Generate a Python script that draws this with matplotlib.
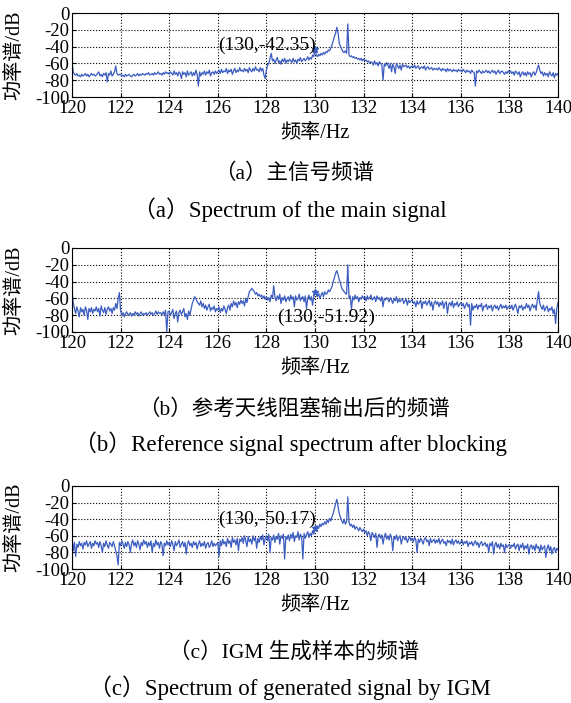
import numpy as np
import matplotlib.pyplot as plt

plt.rcParams['font.family'] = ['Liberation Serif', 'Noto Sans CJK SC', 'DejaVu Sans']
plt.rcParams['axes.unicode_minus'] = False

# frequency grid, 0.05 Hz steps from 120 to 140 Hz
freq = 120 + 0.05 * np.arange(401)

# (a) main signal spectrum, dB (one row per Hz)
psd_main = [
    -58, -70, -73, -74, -72, -75, -74, -76, -73, -75, -74, -72, -75, -73, -76, -74, -72, -74, -73, -75,
    -74, -72, -70, -75, -73, -76, -72, -74, -71, -82, -72, -74, -69, -75, -73, -70, -63, -72, -74, -73,
    -73, -75, -74, -76, -73, -75, -74, -73, -75, -76, -74, -73, -75, -74, -72, -75, -73, -74, -72, -73,
    -74, -72, -73, -71, -74, -73, -72, -74, -71, -73, -72, -70, -73, -72, -74, -71, -73, -70, -72, -71,
    -73, -70, -72, -74, -69, -73, -71, -75, -70, -72, -78, -70, -73, -71, -76, -69, -74, -72, -70, -75,
    -71, -74, -68, -73, -87, -70, -75, -71, -73, -69, -74, -70, -72, -68, -75, -71, -70, -73, -69, -72,
    -70, -68, -72, -67, -71, -69, -70, -66, -72, -68, -70, -67, -73, -69, -66, -71, -68, -70, -65, -69,
    -68, -70, -66, -69, -67, -71, -65, -68, -70, -66, -69, -64, -68, -67, -70, -65, -69, -66, -74, -78,
    -68, -62, -60, -54, -48, -57, -55, -60, -56, -53, -59, -57, -61, -55, -58, -54, -60, -56, -58, -55,
    -57, -59, -54, -58, -56, -60, -55, -57, -53, -58, -56, -54, -57, -55, -52, -56, -53, -55, -50, -52,
    -42, -50, -52, -49, -51, -48, -50, -47, -49, -46, -47, -44, -45, -42, -38, -33, -28, -24, -17, -24,
    -36, -40, -43, -46, -47, -45, -48, -13, -50, -52, -51, -53, -52, -54, -53, -55, -54, -56, -54, -57,
    -55, -57, -56, -58, -57, -60, -58, -59, -62, -57, -61, -59, -63, -58, -60, -62, -80, -61, -63, -59,
    -62, -66, -60, -70, -61, -64, -72, -60, -63, -66, -62, -68, -61, -64, -63, -62, -65, -63, -66, -64,
    -63, -65, -62, -66, -64, -63, -67, -65, -64, -66, -63, -68, -65, -64, -67, -66, -65, -68, -66, -67,
    -66, -68, -65, -67, -69, -66, -68, -67, -70, -66, -69, -67, -68, -70, -67, -69, -68, -70, -67, -69,
    -68, -70, -67, -69, -71, -68, -70, -69, -72, -68, -70, -71, -87, -69, -71, -68, -70, -72, -69, -71,
    -70, -68, -71, -69, -72, -70, -68, -71, -69, -73, -70, -68, -72, -70, -69, -71, -73, -70, -72, -69,
    -71, -69, -72, -70, -74, -69, -71, -73, -70, -76, -72, -70, -74, -71, -75, -70, -73, -71, -76, -72,
    -70, -74, -71, -66, -62, -68, -72, -70, -75, -71, -74, -72, -76, -70, -73, -75, -71, -77, -72, -74,
    -72,
]

# (b) reference antenna after blocking, dB
psd_ref = [
    -50, -65, -72, -78, -70, -75, -82, -71, -76, -73, -80, -70, -74, -85, -72, -76, -71, -78, -73, -75,
    -70, -76, -72, -81, -69, -74, -77, -71, -79, -73, -70, -75, -72, -78, -71, -74, -66, -72, -60, -53,
    -75, -80, -77, -82, -78, -76, -80, -79, -77, -81, -78, -80, -76, -79, -77, -81, -78, -76, -80, -78,
    -79, -77, -80, -78, -76, -79, -77, -80, -78, -75, -79, -76, -78, -77, -80, -76, -79, -74, -100, -76,
    -75, -80, -77, -73, -84, -78, -75, -88, -77, -74, -79, -76, -72, -82, -78, -85, -75, -80, -73, -66,
    -62, -58, -60, -64, -66, -68, -63, -70, -66, -72, -68, -74, -70, -67, -75, -71, -73, -69, -76, -72,
    -74, -70, -77, -72, -75, -69, -73, -78, -71, -68, -74, -66, -70, -63, -68, -65, -71, -64, -67, -62,
    -66, -63, -69, -60, -65, -58, -52, -50, -48, -50, -52, -55, -53, -57, -55, -58, -56, -60, -57, -61,
    -58, -62, -59, -64, -56, -60, -45, -58, -63, -57, -61, -55, -66, -59, -62, -57, -64, -60, -58, -63,
    -56, -61, -58, -70, -57, -62, -60, -55, -63, -59, -58, -64, -57, -72, -60, -56, -62, -58, -68, -57,
    -52, -55, -58, -54, -60, -56, -53, -58, -52, -55, -54, -50, -52, -49, -46, -40, -35, -30, -27, -32,
    -38, -42, -48, -50, -52, -54, -55, -20, -60, -57, -73, -58, -62, -56, -60, -58, -64, -59, -61, -57,
    -60, -58, -63, -57, -61, -59, -56, -62, -60, -58, -64, -57, -61, -59, -63, -58, -70, -60, -62, -59,
    -61, -64, -59, -62, -66, -60, -63, -58, -65, -61, -64, -62, -60, -66, -63, -61, -68, -62, -65, -63,
    -62, -66, -64, -70, -63, -67, -65, -62, -72, -64, -66, -63, -68, -65, -62, -69, -64, -74, -66, -63,
    -67, -64, -70, -65, -68, -63, -72, -66, -64, -78, -67, -65, -69, -63, -71, -66, -68, -64, -70, -67,
    -65, -69, -66, -72, -68, -65, -70, -67, -92, -66, -74, -69, -71, -67, -73, -68, -70, -66, -75, -69,
    -70, -67, -73, -69, -71, -68, -75, -70, -68, -72, -69, -74, -70, -67, -72, -69, -71, -68, -73, -70,
    -69, -72, -68, -74, -70, -67, -72, -78, -69, -71, -68, -74, -70, -72, -66, -71, -68, -75, -70, -67,
    -71, -68, -74, -62, -52, -66, -70, -73, -68, -75, -71, -69, -76, -72, -74, -70, -78, -73, -90, -72,
    -65,
]

# (c) IGM generated sample spectrum, dB
psd_igm = [
    -60, -78, -68, -85, -70, -74, -67, -72, -69, -76, -68, -71, -66, -73, -70, -67, -75, -69, -72, -66,
    -70, -68, -74, -67, -72, -80, -69, -73, -66, -71, -75, -68, -70, -73, -67, -72, -78, -84, -95, -68,
    -72, -66, -70, -75, -68, -73, -67, -71, -80, -69, -65, -72, -68, -74, -66, -70, -77, -68, -72, -65,
    -70, -67, -74, -68, -72, -66, -80, -69, -73, -65, -71, -68, -75, -67, -70, -84, -69, -72, -66, -71,
    -68, -73, -66, -70, -78, -67, -72, -69, -65, -74, -70, -67, -73, -68, -82, -70, -66, -72, -69, -74,
    -67, -71, -68, -76, -70, -66, -73, -69, -72, -67, -75, -70, -68, -74, -71, -66, -73, -69, -72, -70,
    -68, -85, -66, -72, -64, -70, -67, -73, -63, -69, -66, -74, -62, -68, -65, -71, -63, -78, -64, -67,
    -62, -69, -60, -66, -73, -61, -67, -64, -70, -60, -66, -62, -75, -63, -68, -61, -65, -59, -71, -63,
    -60, -66, -58, -80, -62, -65, -59, -68, -61, -64, -57, -70, -60, -63, -58, -88, -61, -64, -59, -66,
    -58, -63, -56, -67, -60, -62, -55, -65, -58, -61, -88, -57, -63, -59, -55, -62, -57, -60, -54, -58,
    -50, -52, -48, -51, -46, -49, -45, -47, -43, -46, -41, -44, -39, -42, -37, -33, -27, -21, -16, -25,
    -33, -38, -42, -45, -40, -46, -43, -13, -44, -48, -46, -50, -47, -52, -49, -51, -54, -50, -53, -55,
    -52, -56, -54, -60, -55, -58, -66, -56, -59, -62, -57, -74, -60, -58, -63, -59, -70, -61, -57, -64,
    -60, -65, -58, -62, -78, -61, -64, -59, -66, -62, -60, -70, -63, -61, -65, -62, -68, -64, -61, -66,
    -63, -67, -62, -65, -80, -64, -68, -63, -66, -70, -64, -62, -67, -65, -72, -63, -68, -66, -64, -69,
    -65, -68, -63, -70, -66, -64, -69, -67, -72, -65, -68, -66, -70, -64, -71, -67, -65, -69, -66, -70,
    -68, -65, -71, -67, -69, -66, -73, -68, -70, -67, -72, -69, -66, -71, -68, -74, -69, -67, -72, -70,
    -68, -73, -70, -80, -69, -72, -67, -82, -71, -68, -74, -70, -76, -69, -73, -71, -80, -70, -74, -72,
    -70, -75, -71, -73, -69, -76, -72, -70, -78, -71, -74, -69, -77, -72, -75, -70, -82, -73, -71, -76,
    -72, -78, -70, -75, -73, -80, -71, -77, -74, -72, -86, -75, -71, -78, -73, -82, -76, -74, -80, -75,
    -77,
]

marker_vals = [-42.35, -51.92, -50.17]
notes = ['(130,-42.35)', '(130,-51.92)', '(130,-50.17)']
captions_cn = ['（a）主信号频谱', '（b）参考天线阻塞输出后的频谱', '（c）IGM 生成样本的频谱']
captions_en = ['（a）Spectrum of the main signal',
               '（b）Reference signal spectrum after blocking',
               '（c）Spectrum of generated signal by IGM']

W, H = 571, 703
fig = plt.figure(figsize=(W / 100, H / 100), dpi=100)

line_color = '#3b5cc0'
# pixel layout: axes top/bottom, xlabel y, caption y's
tops = [13, 248, 486]
bottoms = [97, 332, 569]
xlab_y = [133, 368, 605]
cap_cn_y = [174, 409, 652]
cap_en_y = [210, 444, 688]
note_pos = [(130.05, -38, 'right'), (130.45, -82, 'center'), (130.05, -40, 'right')]

for k, psd in enumerate([psd_main, psd_ref, psd_igm]):
    ax = fig.add_axes([72 / W, 1 - bottoms[k] / H, 486 / W, (bottoms[k] - tops[k]) / H])
    ax.plot(freq, psd, color=line_color, lw=0.9)
    ax.plot([130], [marker_vals[k]], marker='*', ms=5, color=line_color)
    ax.set_xlim(120, 140)
    ax.set_ylim(-100, 0)
    ax.set_xticks(np.arange(120, 141, 2))
    ax.set_yticks(np.arange(-100, 1, 20))
    ax.grid(True, color='black', linestyle=':', linewidth=0.8)
    ax.tick_params(direction='in', labelsize=13.5, length=3, pad=2)
    for s in ax.spines.values():
        s.set_linewidth(0.8)
    x0, y0, ha = note_pos[k]
    ax.text(x0, y0, notes[k], ha=ha, va='center', fontsize=14)

    fig.text(315 / W, 1 - xlab_y[k] / H, '频率/Hz', ha='center', va='center', fontsize=14.5)
    fig.text(15 / W, 1 - (tops[k] + bottoms[k]) / 2 / H, '功率谱/dB', rotation=90,
             ha='center', va='center', fontsize=14.5)
    fig.text(294 / W, 1 - cap_cn_y[k] / H, captions_cn[k], ha='center', va='center', fontsize=15.5)
    fig.text(290 / W, 1 - cap_en_y[k] / H, captions_en[k], ha='center', va='center', fontsize=16.5)

fig.savefig('out.png', dpi=100)
